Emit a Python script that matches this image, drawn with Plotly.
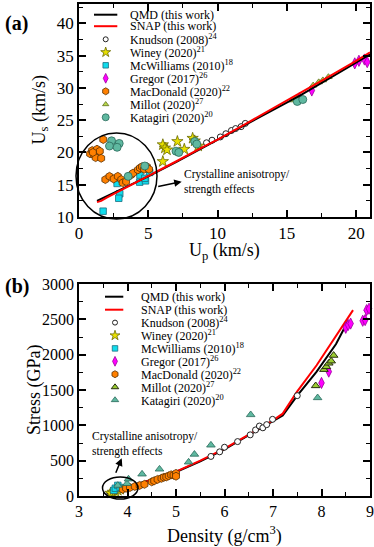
import plotly.graph_objects as go

W, H = 374, 547
FONT = "Liberation Serif"

# ---------------- Panel (a): Us vs Up ----------------
a_qmd_up = [1.3, 3, 5, 7, 9, 10, 12, 14, 16, 18, 20, 21]
a_qmd_us = [12.5, 14.2, 16.3, 18.5, 20.8, 21.9, 24.2, 26.5, 28.9, 31.4, 33.9, 35.2]
a_snap_up = [1.3, 1.6, 2.0, 3, 5, 7, 9, 10, 12, 14, 16, 18, 20, 21]
a_snap_us = [12.3, 12.5, 13.0, 14.1, 16.4, 18.6, 20.9, 22.0, 24.4, 26.8, 29.2, 31.7, 34.2, 35.5]

a_knudson_up = [8.6, 9.2, 9.6, 10.2, 10.6, 11.0, 11.3, 11.7, 12.0]
a_knudson_us = [21.0, 21.5, 21.9, 22.4, 22.9, 23.4, 23.7, 24.0, 24.5]
a_winey_up = [6.05, 6.2, 6.35, 7.1, 7.6, 8.2, 8.35, 6.05, 8.6]
a_winey_us = [21.2, 20.7, 20.4, 21.7, 20.5, 22.2, 21.8, 18.6, 21.0]
a_mcw_up = [1.74, 2.75, 2.94, 2.87, 4.38, 4.8, 5.1, 4.4, 4.75]
a_mcw_us = [10.9, 15.2, 13.6, 12.9, 15.4, 15.6, 16.9, 16.5, 16.0]
a_gregor_up = [15.9, 16.8, 19.9, 20.2, 20.6, 20.8]
a_gregor_us = [28.4, 29.6, 33.8, 34.2, 34.4, 34.0]
a_macd_up = [1.75, 0.8, 0.95, 1.1, 1.3, 1.5, 1.2, 1.6, 1.0,
             1.9, 2.2, 2.5, 2.8, 3.05, 3.15, 3.4, 3.75, 3.9, 4.25, 4.4, 4.55, 4.7, 4.9, 5.05]
a_macd_us = [22.0, 19.8, 20.3, 19.6, 20.5, 20.2, 19.2, 19.1, 20.0,
             15.8, 16.3, 15.9, 16.3, 15.8, 15.3, 15.5, 16.5, 16.8, 17.3, 17.6, 17.8, 17.4, 17.8, 17.4]
a_millot_up = [15.4, 15.7, 16.9, 17.3, 17.6, 18.0]
a_millot_us = [28.1, 28.5, 30.4, 30.9, 31.2, 31.7]
a_kata_up = [2.35, 2.2, 2.9, 2.75, 3.55, 4.75, 7.0, 7.2, 8.35, 8.5, 15.75, 16.15]
a_kata_us = [21.8, 21.0, 21.4, 20.8, 16.3, 17.9, 20.2, 20.0, 21.7, 21.3, 27.9, 28.2]

# ---------------- Panel (b): Stress vs Density ----------------
b_qmd_rho = [3.57, 3.8, 4.0, 4.5, 5.0, 5.5, 6.0, 6.5, 7.0, 7.2, 7.5, 7.9, 8.3, 8.55]
b_qmd_p = [30, 85, 130, 230, 340, 490, 660, 860, 1060, 1140, 1420, 1760, 2150, 2480]
b_snap_rho = [3.6, 3.8, 4.0, 4.5, 5.0, 5.5, 6.0, 6.5, 7.0, 7.2, 7.5, 7.9, 8.3, 8.65]
b_snap_p = [25, 70, 115, 225, 345, 500, 670, 870, 1070, 1165, 1480, 1850, 2270, 2630]

b_knudson_rho = [5.72, 5.9, 6.0, 6.27, 6.53, 6.64, 6.72, 6.79, 6.87, 6.99, 7.5]
b_knudson_p = [560, 625, 690, 770, 865, 935, 990, 965, 1010, 1085, 1420]
b_winey_rho = [3.65, 3.7, 3.75, 3.8, 3.85]
b_winey_p = [40, 55, 65, 80, 95]
b_mcw_rho = [3.72, 3.75, 3.8, 3.85]
b_mcw_p = [80, 110, 150, 120]
b_gregor_rho = [8.0, 8.15, 8.5, 8.55, 8.6, 8.85, 8.9, 8.93, 8.98]
b_gregor_p = [1600, 1760, 2380, 2420, 2440, 2480, 2490, 2630, 2650]
b_macd_rho = [3.9, 3.97, 4.05, 4.15, 4.25, 4.35, 4.5, 4.55, 4.62, 4.7, 4.75, 4.8, 4.85, 4.9, 4.95, 5.0, 5.0]
b_macd_p = [95, 110, 120, 135, 150, 165, 200, 215, 235, 250, 265, 270, 285, 300, 295, 320, 280]
b_millot_rho = [7.88, 8.05, 8.1, 8.15, 8.2, 8.25]
b_millot_p = [1560, 1790, 1830, 1880, 1910, 1990]
b_kata_rho = [3.8, 3.99, 4.02, 4.3, 4.66, 5.26, 5.38, 5.72, 6.54, 7.92]
b_kata_p = [150, 175, 240, 310, 380, 480, 590, 720, 1150, 1390]

# ---------------- styles ----------------
ST = {
    "knudson": dict(symbol="circle", color="white", line=dict(color="#222", width=1), size=6),
    "winey": dict(symbol="star", color="#e8e000", line=dict(color="#6a6a00", width=0.8), size=8.5),
    "mcw": dict(symbol="square", color="#10dcec", line=dict(color="#1b6f80", width=0.8), size=6.5),
    "gregor": dict(symbol="diamond-tall", color="#ff00ff", line=dict(color="#9a009a", width=0.8), size=8),
    "macd": dict(symbol="hexagon", color="#ff8000", line=dict(color="#5a3000", width=0.8), size=8),
    "millot_a": dict(symbol="triangle-up", color="#b8d84a", line=dict(color="#5f7020", width=0.8), size=6.5),
    "millot_b": dict(symbol="triangle-up", color="#9acd32", line=dict(color="#2a3010", width=1), size=7.5),
    "kata_a": dict(symbol="circle", color="#5fb8a0", line=dict(color="#2a6a5a", width=0.8), size=8),
    "kata_b": dict(symbol="triangle-up", color="#5fb8a0", line=dict(color="#2a6a5a", width=0.8), size=7.5),
}

fig = go.Figure()


def pts(x, y, key, xa, ya, name):
    s = ST[key]
    fig.add_trace(go.Scatter(
        x=x, y=y, mode="markers", name=name, showlegend=False,
        xaxis=xa, yaxis=ya, cliponaxis=False,
        marker=dict(symbol=s["symbol"], color=s["color"], size=s["size"], line=s["line"])))


def line(x, y, color, xa, ya, name):
    fig.add_trace(go.Scatter(x=x, y=y, mode="lines", name=name, showlegend=False,
                             xaxis=xa, yaxis=ya, line=dict(color=color, width=2)))


# Panel (a): markers then lines
pts(a_knudson_up, a_knudson_us, "knudson", "x", "y", "Knudson (2008)")
pts(a_winey_up, a_winey_us, "winey", "x", "y", "Winey (2020)")
pts(a_mcw_up, a_mcw_us, "mcw", "x", "y", "McWilliams (2010)")
pts(a_gregor_up, a_gregor_us, "gregor", "x", "y", "Gregor (2017)")
pts(a_macd_up, a_macd_us, "macd", "x", "y", "MacDonald (2020)")
pts(a_millot_up, a_millot_us, "millot_a", "x", "y", "Millot (2020)")
pts(a_kata_up, a_kata_us, "kata_a", "x", "y", "Katagiri (2020)")
line(a_qmd_up, a_qmd_us, "black", "x", "y", "QMD (this work)")
line(a_snap_up, a_snap_us, "red", "x", "y", "SNAP (this work)")

# Panel (b): lines then markers
line(b_qmd_rho, b_qmd_p, "black", "x2", "y2", "QMD (this work)")
line(b_snap_rho, b_snap_p, "red", "x2", "y2", "SNAP (this work)")
pts(b_knudson_rho, b_knudson_p, "knudson", "x2", "y2", "Knudson (2008)")
pts(b_winey_rho, b_winey_p, "winey", "x2", "y2", "Winey (2020)")
pts(b_mcw_rho, b_mcw_p, "mcw", "x2", "y2", "McWilliams (2010)")
pts(b_gregor_rho, b_gregor_p, "gregor", "x2", "y2", "Gregor (2017)")
pts(b_macd_rho, b_macd_p, "macd", "x2", "y2", "MacDonald (2020)")
pts(b_millot_rho, b_millot_p, "millot_b", "x2", "y2", "Millot (2020)")
pts(b_kata_rho, b_kata_p, "kata_b", "x2", "y2", "Katagiri (2020)")

# ---------------- manual legends (pixel layout) ----------------
legend_names = ["QMD (this work)", "SNAP (this work)", "Knudson (2008)<sup>24</sup>",
                "Winey (2020)<sup>21</sup>", "McWilliams (2010)<sup>18</sup>",
                "Gregor (2017)<sup>26</sup>", "MacDonald (2020)<sup>22</sup>",
                "Millot (2020)<sup>27</sup>", "Katagiri (2020)<sup>20</sup>"]
legend_a_keys = ["knudson", "winey", "mcw", "gregor", "macd", "millot_a", "kata_a"]
legend_b_keys = ["knudson", "winey", "mcw", "gregor", "macd", "millot_b", "kata_b"]

shapes = []
annotations = []


def px2paper(xp, yp):
    return xp / W, 1 - yp / H


def make_legend(rows, lx0, lx1, mx, tx, keys):
    for i, name in enumerate(legend_names):
        yp = rows[i]
        if i < 2:
            x0, y0 = px2paper(lx0, yp)
            x1, _ = px2paper(lx1, yp)
            shapes.append(dict(type="line", xref="paper", yref="paper", x0=x0, x1=x1, y0=y0, y1=y0,
                               line=dict(color="black" if i == 0 else "red", width=2)))
        else:
            s = ST[keys[i - 2]]
            sz = s["size"] - 1
            fig.add_trace(go.Scatter(x=[mx], y=[yp], mode="markers", showlegend=False, hoverinfo="skip",
                                     xaxis="x3", yaxis="y3", cliponaxis=False,
                                     marker=dict(symbol=s["symbol"], color=s["color"], size=sz, line=s["line"])))
        tx_p, ty_p = px2paper(tx, yp)
        annotations.append(dict(xref="paper", yref="paper", x=tx_p, y=ty_p, xanchor="left", yanchor="middle",
                                text=name, showarrow=False,
                                font=dict(family=FONT, size=12, color="black")))


make_legend([14.7, 26.2, 39.3, 52.3, 65.3, 78.3, 91.3, 104.3, 117.3], 94, 117.3, 105.7, 127.5, legend_a_keys)
make_legend([296.7, 309.7, 322.6, 335.5, 348.4, 361.3, 374.2, 387.1, 400.0], 105, 123.3, 115, 139, legend_b_keys)

# ---------------- annotation ellipses / arrows / text ----------------
ex0, ey1 = px2paper(76, 219)
ex1, ey0 = px2paper(157, 133)
shapes.append(dict(type="circle", xref="paper", yref="paper", x0=ex0, x1=ex1, y0=ey1, y1=ey0,
                   line=dict(color="black", width=1.5)))
bx0, by1 = px2paper(102.5, 499)
bx1, by0 = px2paper(138, 477)
shapes.append(dict(type="circle", xref="paper", yref="paper", x0=bx0, x1=bx1, y0=by1, y1=by0,
                   line=dict(color="black", width=1.5)))

hx, hy = px2paper(181.7, 181.7)
annotations.append(dict(xref="paper", yref="paper", x=hx, y=hy, ax=-25, ay=5, text="", showarrow=True,
                        arrowhead=2, arrowsize=1, arrowwidth=1.5, arrowcolor="black"))
hx, hy = px2paper(121.7, 458.3)
annotations.append(dict(xref="paper", yref="paper", x=hx, y=hy, ax=-6.5, ay=16, text="", showarrow=True,
                        arrowhead=2, arrowsize=1, arrowwidth=1.5, arrowcolor="black"))

tx, ty = px2paper(182, 182.3)
annotations.append(dict(xref="paper", yref="paper", x=tx, y=ty, xanchor="left", yanchor="middle", align="left",
                        text="Crystalline anisotropy/<br>strength effects", showarrow=False,
                        font=dict(family=FONT, size=11.5, color="black")))
tx, ty = px2paper(90, 443.9)
annotations.append(dict(xref="paper", yref="paper", x=tx, y=ty, xanchor="left", yanchor="middle", align="left",
                        text="Crystalline anisotropy/<br>strength effects", showarrow=False,
                        font=dict(family=FONT, size=11.5, color="black")))

# panel labels
tx, ty = px2paper(3, 23)
annotations.append(dict(xref="paper", yref="paper", x=tx, y=ty, xanchor="left", yanchor="middle",
                        text="<b>(a)</b>", showarrow=False, font=dict(family=FONT, size=20, color="black")))
tx, ty = px2paper(3, 286)
annotations.append(dict(xref="paper", yref="paper", x=tx, y=ty, xanchor="left", yanchor="middle",
                        text="<b>(b)</b>", showarrow=False, font=dict(family=FONT, size=20, color="black")))

# axis titles (placed as annotations for exact position)
TF = dict(family=FONT, size=18, color="black")
for text, xp, yp, ang in [("U<sub>p</sub> (km/s)", 224.5, 251, 0),
                          ("U<sub>s</sub> (km/s)", 40, 110.5, -90),
                          ("Density (g/cm<sup>3</sup>)", 224.5, 535, 0),
                          ("Stress (GPa)", 34, 390, -90)]:
    tx, ty = px2paper(xp, yp)
    annotations.append(dict(xref="paper", yref="paper", x=tx, y=ty, xanchor="center", yanchor="middle",
                            text=text, textangle=ang, showarrow=False, font=TF))


# ---------------- axes ----------------
def axis(fs=17, **kw):
    base = dict(showline=True, linecolor="black", linewidth=1.5, mirror="allticks",
                ticks="inside", ticklen=7, tickwidth=1.5, tickcolor="black",
                showgrid=False, zeroline=False, automargin=False, ticklabeloverflow="allow",
                tickfont=dict(family=FONT, size=fs, color="black"))
    base.update(kw)
    return base


def minor(d):
    return dict(ticks="inside", ticklen=4, tickwidth=1.2, tickcolor="black", dtick=d, showgrid=False)


xd = [79 / W, 370 / W]
fig.update_layout(
    width=W, height=H,
    margin=dict(l=0, r=0, t=0, b=0),
    paper_bgcolor="white", plot_bgcolor="rgba(0,0,0,0)",
    showlegend=False,
    xaxis=axis(domain=xd, anchor="y", range=[0, 21], tick0=0, dtick=5, minor=minor(2.5)),
    yaxis=axis(domain=[1 - 217 / H, 1 - 4 / H], anchor="x", range=[10, 43], tick0=10, dtick=5, minor=minor(2.5)),
    xaxis2=axis(fs=16, domain=xd, anchor="y2", range=[3, 9], tick0=3, dtick=1, minor=minor(0.5)),
    yaxis2=axis(fs=16, domain=[1 - 496 / H, 1 - 284 / H], anchor="x2", range=[0, 3000], tick0=0, dtick=500,
                minor=minor(250)),
    xaxis3=dict(domain=[0, 1], anchor="y3", range=[0, W], visible=False, fixedrange=True),
    yaxis3=dict(domain=[0, 1], anchor="x3", range=[H, 0], visible=False, fixedrange=True),
    shapes=shapes,
    annotations=annotations,
)

fig.write_html("out.html", config={"displayModeBar": False},
               post_script="document.body.style.margin='0';document.body.style.overflow='hidden';")
